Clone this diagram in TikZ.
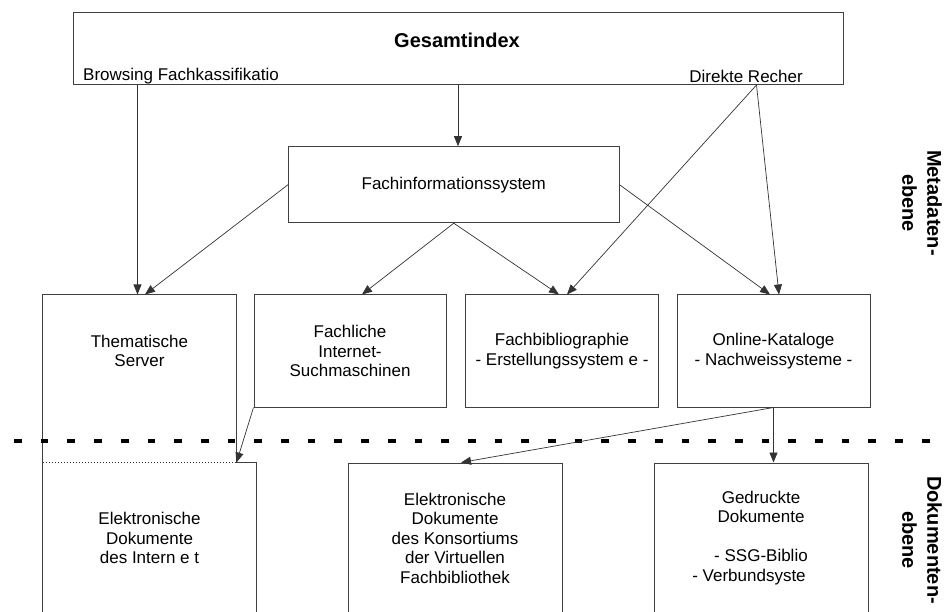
\documentclass[tikz,border=0pt]{standalone}
\usepackage{fontspec}
\setmainfont{Liberation Sans}
\usetikzlibrary{arrows.meta}

\begin{document}
\begin{tikzpicture}[x=1pt,y=-1pt]
\tikzstyle{boxone} = [draw=black!75,line width=1pt,align=center,inner sep=0pt,font=\fontsize{17}{19.5}\selectfont]
\tikzstyle{textone} = [inner sep=0pt,font=\fontsize{17}{19.5}\selectfont]
\tikzstyle{arrowone} = [black!80,line width=0.7pt,-{Triangle[length=10pt,width=8pt]}]
\tikzstyle{sideone} = [rotate=-90,align=center,inner sep=0pt,font=\fontsize{20}{25}\selectfont\bfseries]
  \clip (0,0) rectangle (945,612);
  %top box
  \node[boxone,minimum width=770,minimum height=72.5] (gesamt) at (458,48.75) {};
  \node[textone,font=\fontsize{20}{24}\selectfont\bfseries] (titel) at (457,40) {Gesamtindex};
  \node[textone,anchor=west] (browse) at (83,76) {Browsing Fachkassifikatio};
  \node[textone,anchor=east] (direkt) at (803,76) {Direkte Recher};
  \coordinate (browse out) at (137.5,85);
  \coordinate (direkt out) at (756.5,85);
  %middle box
  \node[boxone,minimum width=330.5,minimum height=76] (fis) at (453.75,184.7) {Fachinformationssystem};
  %metadata boxes
  \node[boxone,draw=none,minimum width=193,minimum height=112] (them) at (139.5,351) {Thematische\\Server};
  \node[boxone,minimum width=192,minimum height=112] (fach) at (350,351) {Fachliche\\Internet-\\Suchmaschinen};
  \node[boxone,minimum width=193,minimum height=112] (bib) at (562,351) {Fachbibliographie\\- Erstellungssystem e -};
  \node[boxone,minimum width=193,minimum height=112] (kat) at (773.5,351) {Online-Kataloge\\- Nachweissysteme -};
  %document boxes
  \node[boxone,draw=none,minimum width=213,minimum height=150] (elint) at (149.5,538) {Elektronische\\Dokumente\\des Intern e t};
  \node[boxone,minimum width=214,minimum height=150] (kons) at (455,538) {Elektronische\\Dokumente\\des Konsortiums\\der Virtuellen\\Fachbibliothek};
  \node[boxone,minimum width=214,minimum height=150] (druck) at (761,538) {Gedruckte\\Dokumente\\~\\- SSG-Biblio\hspace*{32pt}\\- Verbundsyste\hspace*{24pt}};
  %frame of thematische server and internet box
  \draw[black!75,line width=1pt] (elint.south west) -- (them.north west) -- (them.north east) -- (them.east |- elint.north)
    -- (elint.north east) -- (elint.south east);
  \draw[black!80,line width=0.8pt,dash pattern=on 1pt off 2pt] (them.west |- elint.north) -- (them.east |- elint.north);
  %level line
  \draw[black,line width=4pt,dash pattern=on 7.7pt off 19pt] (14,441) -- (945,441);
  %arrows from top
  \draw[arrowone] (browse out) -- (browse out |- them.north);
  \draw[arrowone] (gesamt.south) -- (gesamt.south |- fis.north);
  \draw[arrowone] (direkt out) -- ([xshift=5pt]bib.north);
  \draw[arrowone] (direkt out) -- ([xshift=5.5pt]kat.north);
  \draw[arrowone] (fis.west) -- ([xshift=5.5pt]them.north);
  \draw[arrowone] (fis.south) -- ([xshift=12pt]fach.north);
  \draw[arrowone] (fis.south) -- ([xshift=-3pt]bib.north);
  \draw[arrowone] (fis.east) -- ([xshift=-3.5pt]kat.north);
  %arrows to documents
  \draw[arrowone] (fach.south west) -- (them.east |- elint.north);
  \draw[arrowone] (kat.south) -- ([xshift=6pt]kons.north);
  \draw[arrowone] (kat.south) -- (kat.south |- druck.north);
  %levels
  \node[sideone] (meta) at (922,203) {Metadaten-\\ebene};
  \node[sideone] (doku) at (922,540) {Dokumenten-\\ebene};
\end{tikzpicture}
\end{document}
